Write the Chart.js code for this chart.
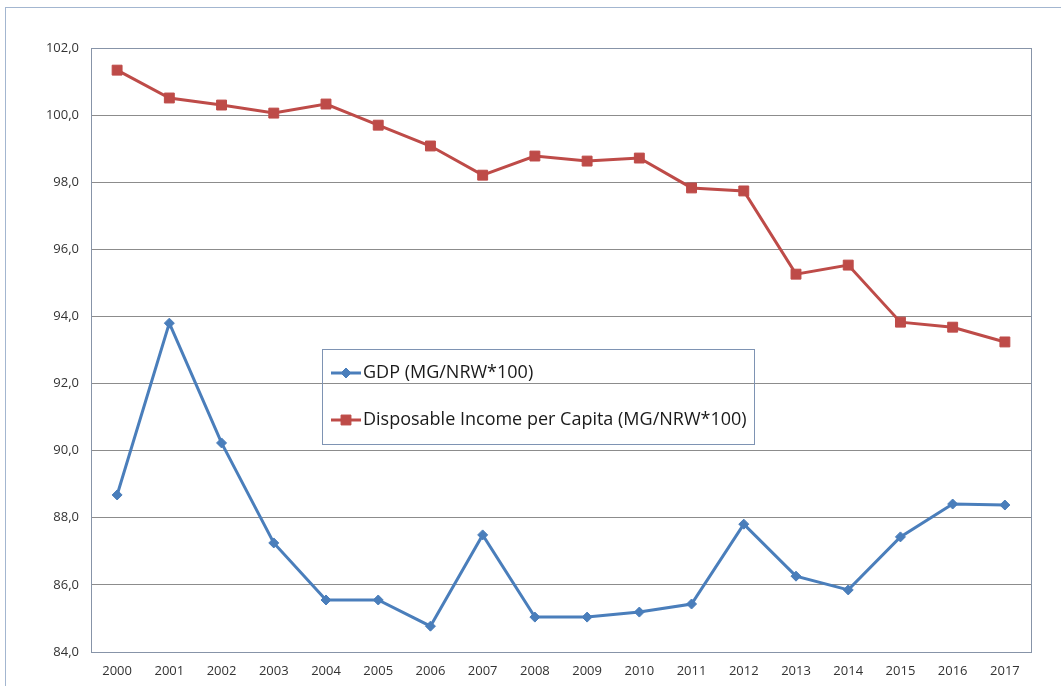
<!DOCTYPE html>
<html><head><meta charset="utf-8">
<script src="https://cdn.jsdelivr.net/npm/chart.js@4.4.1/dist/chart.umd.min.js"></script>
<style>html,body{margin:0;padding:0;background:#fff}#wrap{width:1061px;height:686px;position:relative}</style>
</head><body><div id="wrap"><canvas id="c"></canvas></div>
<script>
const years = ['2000','2001','2002','2003','2004','2005','2006','2007','2008','2009','2010','2011','2012','2013','2014','2015','2016','2017'];
const gdpLabel = 'GDP (MG/NRW*100)';
const gdp = [88.68, 93.80, 90.23, 87.25, 85.55, 85.55, 84.77, 87.49, 85.04, 85.04, 85.19, 85.43, 87.81, 86.26, 85.85, 87.43, 88.41, 88.38];
const incomeLabel = 'Disposable Income per Capita (MG/NRW*100)';
const income = [101.34, 100.51, 100.30, 100.06, 100.33, 99.70, 99.08, 98.21, 98.78, 98.63, 98.72, 97.83, 97.74, 95.26, 95.53, 93.83, 93.68, 93.24];
const yMin = 84, yMax = 102, yStep = 2;

const FONT = "'Open Sans', 'Liberation Sans', sans-serif";

function drawMarker(ctx, style, x, y, r, color) {
  ctx.fillStyle = color; ctx.strokeStyle = color; ctx.lineWidth = 1;
  ctx.beginPath();
  if (style === 'rect') {
    const s = Math.SQRT1_2 * r;
    ctx.rect(x - s, y - s, 2 * s, 2 * s);
  } else {
    ctx.moveTo(x, y - r); ctx.lineTo(x + r, y); ctx.lineTo(x, y + r); ctx.lineTo(x - r, y); ctx.closePath();
  }
  ctx.fill(); ctx.stroke();
}

const frame = {
  id: 'frame',
  beforeDraw(chart) {
    const ctx = chart.ctx;
    ctx.save();
    ctx.fillStyle = '#fff';
    ctx.fillRect(0, 0, chart.width, chart.height);
    ctx.strokeStyle = '#a3b6d0';
    ctx.lineWidth = 1;
    ctx.strokeRect(5.5, 7.5, chart.width + 20, chart.height + 20);
    ctx.restore();
  },
  afterDraw(chart, args, opts) {
    const ctx = chart.ctx;
    const a = chart.chartArea;
    ctx.save();
    ctx.strokeStyle = '#8794a8';
    ctx.lineWidth = 1;
    ctx.strokeRect(Math.round(a.left) + 0.5, Math.round(a.top) + 0.5, Math.round(a.right - a.left), Math.round(a.bottom - a.top));
    // legend box
    const L = opts.legend;
    ctx.strokeStyle = '#7e93b3';
    ctx.strokeRect(L.x + 0.5, L.y + 0.5, L.w, L.h);
    chart.data.datasets.forEach((ds, i) => {
      const cy = L.y + L.rows[i];
      ctx.strokeStyle = ds.borderColor; ctx.lineWidth = ds.borderWidth;
      ctx.beginPath(); ctx.moveTo(L.x + 9, cy); ctx.lineTo(L.x + 39, cy); ctx.stroke();
      drawMarker(ctx, ds.pointStyle, L.x + 24, cy, ds.pointRadius, ds.pointBackgroundColor);
      ctx.fillStyle = '#1a1a1a';
      ctx.font = '18px ' + FONT;
      ctx.textBaseline = 'middle';
      ctx.textAlign = 'left';
      ctx.fillText(ds.label, L.x + 41, cy);
    });
    ctx.restore();
  }
};

new Chart(document.getElementById('c'), {
  type: 'line',
  data: {
    labels: years,
    datasets: [
      { label: gdpLabel, data: gdp, borderColor: '#4a7ebb', backgroundColor: '#4a7ebb', pointBackgroundColor: '#4a7ebb', pointBorderColor: '#4a7ebb', borderWidth: 3, pointStyle: 'rectRot', pointRadius: 5, pointBorderWidth: 1, tension: 0 },
      { label: incomeLabel, data: income, borderColor: '#be4b48', backgroundColor: '#be4b48', pointBackgroundColor: '#be4b48', pointBorderColor: '#be4b48', borderWidth: 3, pointStyle: 'rect', pointRadius: 7, pointBorderWidth: 1, tension: 0 }
    ]
  },
  options: {
    responsive: true,
    maintainAspectRatio: false,
    animation: false,
    layout: { padding: { left: 0, right: 30, top: 48, bottom: 0 } },
    plugins: {
      legend: { display: false },
      tooltip: { enabled: false },
      frame: { legend: { x: 322, y: 349, w: 432, h: 95, rows: [24, 71] } }
    },
    scales: {
      x: {
        offset: true,
        grid: { display: false, drawTicks: false },
        border: { display: false },
        ticks: { color: '#333', font: { family: FONT, size: 13 }, padding: 11, maxRotation: 0, autoSkip: false },
        afterFit(s) { s.height = 34; }
      },
      y: {
        min: yMin, max: yMax,
        grid: { color: '#8c8c8c', lineWidth: 1, drawTicks: false },
        border: { display: false },
        ticks: { stepSize: yStep, color: '#333', font: { family: FONT, size: 13 }, padding: 12,
          callback: v => v.toFixed(1).replace('.', ',') },
        afterFit(s) { s.width = 91; }
      }
    }
  },
  plugins: [frame]
});
</script>
</body></html>
